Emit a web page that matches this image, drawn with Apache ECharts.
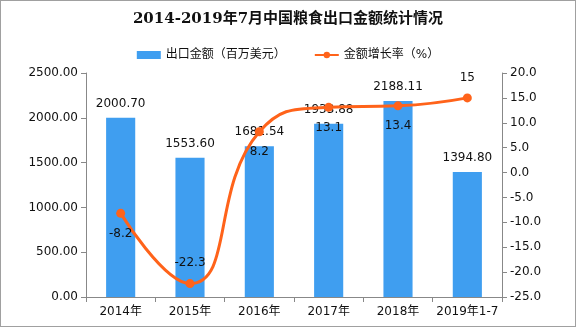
<!DOCTYPE html>
<html>
<head>
<meta charset="utf-8">
<script src="https://cdn.jsdelivr.net/npm/echarts@6/dist/echarts.min.js"></script>
<style>
  html, body { margin: 0; padding: 0; background: #fff; }
  #chart { width: 574px; height: 325px; border: 1px solid #a0a0a0; }
</style>
</head>
<body>
<div id="chart"></div>
<script>
// Category labels (years)
const categories = ['2014年', '2015年', '2016年', '2017年', '2018年', '2019年1-7'];
// Export value, million USD
const exportValue = [2000.70, 1553.60, 1681.54, 1933.88, 2188.11, 1394.80];
// Year-on-year growth rate, %
const growthRate = [-8.2, -22.3, 8.2, 13.1, 13.4, 15];
// Where each growth label sits relative to its point
const growthLabelPos = ['bottom', 'top', 'bottom', 'bottom', 'bottom', 'top'];

const fontFam = '"DejaVu Sans", "Noto Sans CJK SC", sans-serif';
const chart = echarts.init(document.getElementById('chart'));

chart.setOption({
  backgroundColor: '#fff',
  animation: false,
  title: {
    text: '2014-2019年7月中国粮食出口金额统计情况',
    left: 'center',
    top: 6,
    textStyle: { fontSize: 15, fontWeight: 'bold', color: '#111', fontFamily: '"DejaVu Serif", "Noto Sans CJK SC", serif' }
  },
  legend: {
    top: 43,
    left: 'center',
    itemGap: 28,
    itemWidth: 24,
    itemHeight: 8,
    textStyle: { fontSize: 12, color: '#111', fontFamily: fontFam },
    data: [
      { name: '出口金额（百万美元）', icon: 'rect' },
      { name: '金额增长率（%）' }
    ]
  },
  grid: { left: 85, right: 73, top: 72, bottom: 29 },
  xAxis: {
    type: 'category',
    data: categories,
    axisLine: { lineStyle: { color: '#888' } },
    axisTick: { show: true, alignWithLabel: false, lineStyle: { color: '#888' } },
    axisLabel: { color: '#111', fontSize: 12, margin: 9, interval: 0, fontFamily: fontFam }
  },
  yAxis: [
    {
      type: 'value',
      min: 0, max: 2500, interval: 500,
      splitLine: { show: false },
      axisLine: { show: true, lineStyle: { color: '#888' } },
      axisTick: { show: true, lineStyle: { color: '#888' } },
      axisLabel: { color: '#111', fontSize: 12, fontFamily: fontFam, formatter: v => v.toFixed(2) }
    },
    {
      type: 'value',
      min: -25, max: 20, interval: 5,
      splitLine: { show: false },
      axisLine: { show: true, lineStyle: { color: '#888' } },
      axisTick: { show: true, lineStyle: { color: '#888' } },
      axisLabel: { color: '#111', fontSize: 12, fontFamily: fontFam, formatter: v => v.toFixed(1) }
    }
  ],
  series: [
    {
      name: '出口金额（百万美元）',
      type: 'bar',
      data: exportValue,
      barWidth: '42%',
      itemStyle: { color: '#3f9ef0' },
      label: {
        show: true, position: 'top', distance: 8,
        color: '#111', fontSize: 12, fontFamily: fontFam,
        formatter: p => p.value.toFixed(2)
      }
    },
    {
      name: '金额增长率（%）',
      type: 'line',
      yAxisIndex: 1,
      smooth: 0.5,
      symbol: 'circle',
      symbolSize: 9,
      lineStyle: { color: '#ff631a', width: 3 },
      itemStyle: { color: '#ff631a' },
      data: growthRate.map((v, i) => ({
        value: v,
        label: { position: growthLabelPos[i] }
      })),
      label: {
        show: true, distance: 10,
        color: '#111', fontSize: 12, fontFamily: fontFam
      },
      z: 5
    }
  ]
});
</script>
</body>
</html>
